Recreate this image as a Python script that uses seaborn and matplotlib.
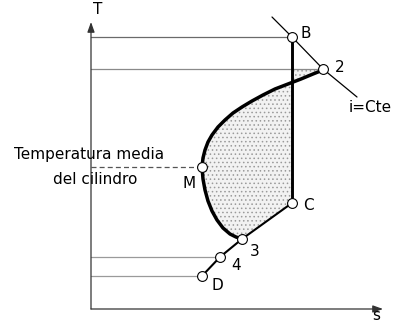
import matplotlib
matplotlib.use("Agg")
import matplotlib.pyplot as plt
import seaborn as sns
import pandas as pd

sns.set_theme(style="white")
plt.rcParams["font.family"] = ["DejaVu Sans"]
plt.rcParams["hatch.linewidth"] = 0.6
plt.rcParams["text.color"] = "black"

# Characteristic states on the T-s diagram (entropy s, temperature T)
state_names = ["B", "2", "M", "C", "3", "4", "D"]
state_s = [201, 232, 111, 201, 151, 129, 111]
state_T = [272, 240, 142, 106, 70, 52, 33]

# Heating curve from 3 through M up to 2
curve_s = [151, 145, 139, 132, 126, 121, 117, 114, 112, 111,
           112, 114, 117, 121, 127, 134, 142, 151, 161, 172, 184, 197, 210, 222, 232]
curve_T = [70, 72, 75, 81, 89, 98, 108, 119, 130, 142,
           151, 159, 167, 174, 182, 189, 196, 202, 208, 214, 220, 225, 230, 235, 239]

# Constant enthalpy line through B and 2
iso_s = [181, 201, 232, 266]
iso_T = [292, 272, 240, 212]

# Label positions (s, T) for each state
label_s = [215, 249, 98, 217, 164, 145, 126]
label_T = [276, 241, 125, 104, 58, 44, 23]

pts = pd.DataFrame({"name": state_names, "s": state_s, "T": state_T})
P = {n: (s, t) for n, s, t in zip(state_names, state_s, state_T)}
curve = pd.DataFrame({"s": curve_s, "T": curve_T})
iso = pd.DataFrame({"s": iso_s, "T": iso_T})

fig = plt.figure(figsize=(3.93, 3.21), dpi=100)
ax = fig.add_axes([0, 0, 1, 1])
ax.set_xlim(-91, 302)
ax.set_ylim(-12, 309)
ax.axis("off")


def seg(xs, ys, **kw):
    sns.lineplot(x=xs, y=ys, sort=False, estimator=None, ax=ax, **kw)


# Shaded area: heating curve, top segment at T2, vertical B-C, and C-3
poly_s = curve_s + [P["B"][0], P["C"][0]]
poly_T = curve_T + [P["2"][1], P["C"][1]]
ax.fill(poly_s, poly_T, facecolor="#f2f2f2", edgecolor="#9a9a9a",
        hatch="....", linewidth=0, zorder=1)

# Axes with arrow heads
axis_kw = dict(arrowstyle="-|>,head_length=0.5,head_width=0.18", color="#333333", lw=0.9,
               shrinkA=0, shrinkB=0)
ax.annotate("", xy=(0, 287), xytext=(0, 0), arrowprops=axis_kw)
ax.annotate("", xy=(292, 0), xytext=(0, 0), arrowprops=axis_kw)

# Reference lines to the temperature axis
for name, col in [("B", "#6a6a6a"), ("2", "#8a8a8a"), ("4", "#9a9a9a"), ("D", "#9a9a9a")]:
    seg([0, P[name][0]], [P[name][1], P[name][1]], color=col, lw=0.9, zorder=2)
seg([0, P["M"][0]], [P["M"][1], P["M"][1]], color="#555555", lw=0.9,
    linestyle=(0, (4, 2.5)), zorder=2)

# Constant enthalpy line
sns.lineplot(data=iso, x="s", y="T", sort=False, estimator=None, color="black",
             lw=0.9, ax=ax, zorder=3)

# Process lines
sns.lineplot(data=curve, x="s", y="T", sort=False, estimator=None, color="black",
             lw=2.5, ax=ax, zorder=4)
seg([P["B"][0], P["C"][0]], [P["B"][1], P["C"][1]], color="black", lw=2.1, zorder=4)
seg([P["C"][0], P["3"][0]], [P["C"][1], P["3"][1]], color="black", lw=1.5, zorder=4)
seg([P["3"][0], P["4"][0], P["D"][0]], [P["3"][1], P["4"][1], P["D"][1]],
    color="black", lw=1.5, zorder=4)

# State markers
sns.scatterplot(data=pts, x="s", y="T", s=50, color="white", edgecolor="black",
                linewidth=0.8, ax=ax, zorder=5)

fs = 11
for n, lx, ly in zip(state_names, label_s, label_T):
    ax.text(lx, ly, n, fontsize=fs, ha="center", va="center", zorder=6)

ax.text(7, 300, "T", fontsize=fs, ha="center", va="center")
ax.text(285, -6, "s", fontsize=fs, ha="center", va="center")
ax.text(279, 202, "i=Cte", fontsize=fs, ha="center", va="center")
ax.text(-2, 154, "Temperatura media", fontsize=fs, ha="center", va="center")
ax.text(4, 129, "del cilindro", fontsize=fs, ha="center", va="center")

fig.savefig("out.png", dpi=100, facecolor="white")
